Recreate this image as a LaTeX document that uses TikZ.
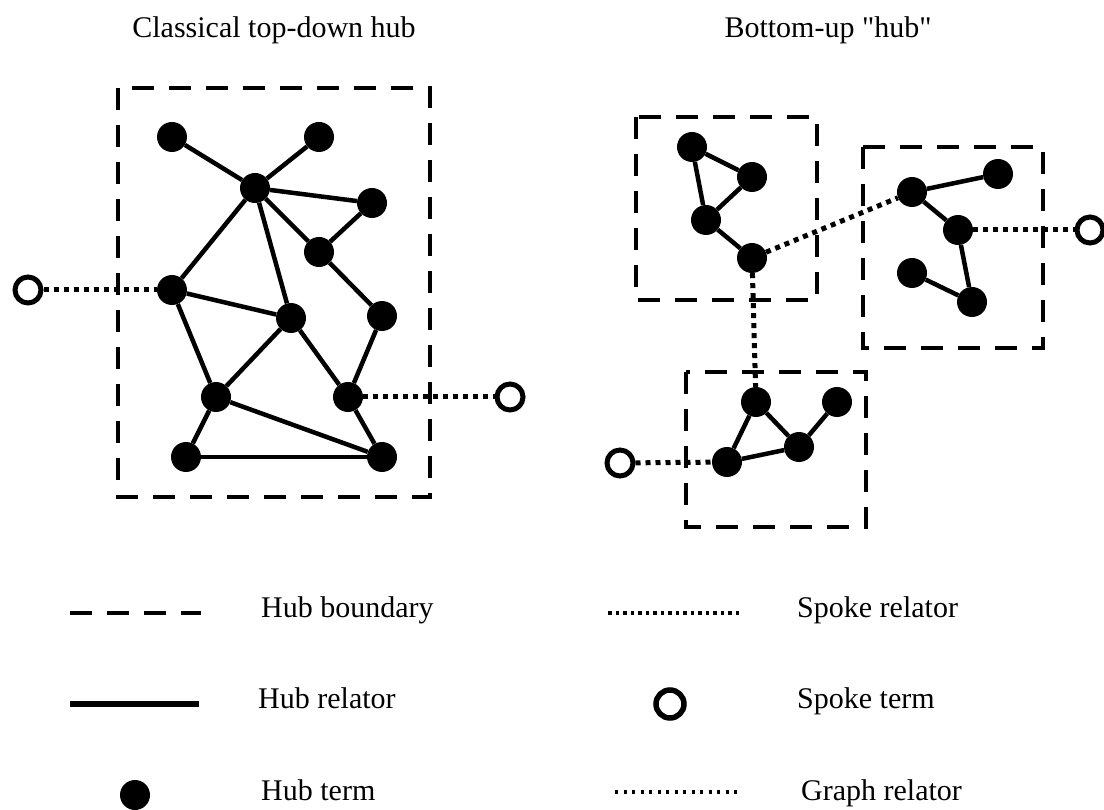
\documentclass[tikz,border=0pt]{standalone}
\usepackage{fontspec}
\newfontfamily\plainserif{Liberation Serif}
\begin{document}
\begin{tikzpicture}[x=1pt, y=-1pt,
            hubterm/.style={circle, fill=black, inner sep=0pt, minimum size=30pt},
            spoketerm/.style={circle, draw=black, fill=white, line width=5pt, inner sep=0pt, minimum size=26pt},
            hubrel/.style={line width=4.5pt},
            spokerel/.style={line width=5pt, dash pattern=on 5pt off 5pt},
            boundary/.style={line width=4.5pt, dash pattern=on 22pt off 15pt},
            legtext/.style={anchor=base west, inner sep=0pt, font=\plainserif\fontsize{30}{34}\selectfont}]
            \useasboundingbox (0,0) rectangle (1104,810);
            \node[legtext, anchor=base] (title1) at (274,38) {Classical top-down hub};
            \node[legtext, anchor=base] (title2) at (828,38) {Bottom-up "hub"};
            % classical hub
            \draw[boundary] (118,88) rectangle (430,497);
            \node[hubterm] (a1) at (172,137) {};
            \node[hubterm] (a2) at (319,137) {};
            \node[hubterm] (a3) at (255,188) {};
            \node[hubterm] (a4) at (372,203) {};
            \node[hubterm] (a5) at (319,252) {};
            \node[hubterm] (a6) at (172,290) {};
            \node[hubterm] (a7) at (291,318) {};
            \node[hubterm] (a8) at (382,316) {};
            \node[hubterm] (a9) at (216,397) {};
            \node[hubterm] (a10) at (348,397) {};
            \node[hubterm] (a11) at (186,457) {};
            \node[hubterm] (a12) at (382,457) {};
            \node[spoketerm] (s1) at (28,290) {};
            \node[spoketerm] (s2) at (510,397) {};
            \foreach \u/\v in {a1/a3, a2/a3, a3/a4, a3/a5, a4/a5, a3/a6, a3/a7, a5/a8, a6/a7,
                a6/a9, a7/a9, a7/a10, a8/a10, a9/a11, a9/a12, a10/a12, a11/a12}
                \draw[hubrel] (\u) -- (\v);
            \draw[spokerel] (s1) -- (a6);
            \draw[spokerel] (a10) -- (s2);
            % bottom-up hub
            \draw[boundary] (636,117) rectangle (817,300);
            \draw[boundary] (863,147) rectangle (1043,348);
            \draw[boundary] (686,372) rectangle (866,527);
            \node[hubterm] (p1) at (692,147) {};
            \node[hubterm] (p2) at (752,177) {};
            \node[hubterm] (p3) at (706,220) {};
            \node[hubterm] (p4) at (752,258) {};
            \node[hubterm] (q1) at (912,192) {};
            \node[hubterm] (q2) at (998,174) {};
            \node[hubterm] (q3) at (958,230) {};
            \node[hubterm] (q4) at (912,273) {};
            \node[hubterm] (q5) at (972,302) {};
            \node[hubterm] (r1) at (756,402) {};
            \node[hubterm] (r2) at (837,402) {};
            \node[hubterm] (r3) at (727,462) {};
            \node[hubterm] (r4) at (799,447) {};
            \node[spoketerm] (s3) at (1090,230) {};
            \node[spoketerm] (s4) at (620,463) {};
            \foreach \u/\v in {p1/p2, p1/p3, p2/p3, p3/p4, q1/q2, q1/q3, q3/q5, q4/q5,
                r1/r3, r1/r4, r3/r4, r4/r2}
                \draw[hubrel] (\u) -- (\v);
            \draw[spokerel] (q3) -- (s3);
            \draw[spokerel] (s4) -- (r3);
            \draw[spokerel] (p4) -- (q1);
            \draw[spokerel] (p4) -- (r1);
            % legend
            \coordinate (lb1) at (70,613);
            \coordinate (lb2) at (201,613);
            \coordinate (lr1) at (70,704);
            \coordinate (lr2) at (199,704);
            \coordinate (ls1) at (608,613);
            \coordinate (ls2) at (739,613);
            \coordinate (lg1) at (615,792);
            \coordinate (lg2) at (739,792);
            \draw[boundary] (lb1) -- (lb2);
            \draw[line width=6.5pt] (lr1) -- (lr2);
            \node[hubterm] (lt) at (135,795) {};
            \draw[line width=4pt, dash pattern=on 3.5pt off 4pt] (ls1) -- (ls2);
            \node[spoketerm, minimum size=28pt, line width=5.5pt] (lst) at (670,704) {};
            \draw[line width=3.5pt, dash pattern=on 3pt off 5.5pt] (lg1) -- (lg2);
            \node[legtext] (t1) at (261,617) {Hub boundary};
            \node[legtext] (t2) at (258,708) {Hub relator};
            \node[legtext] (t3) at (261,800) {Hub term};
            \node[legtext] (t4) at (797,617) {Spoke relator};
            \node[legtext] (t5) at (797,708) {Spoke term};
            \node[legtext] (t6) at (801,800) {Graph relator};
        \end{tikzpicture}
\end{document}
